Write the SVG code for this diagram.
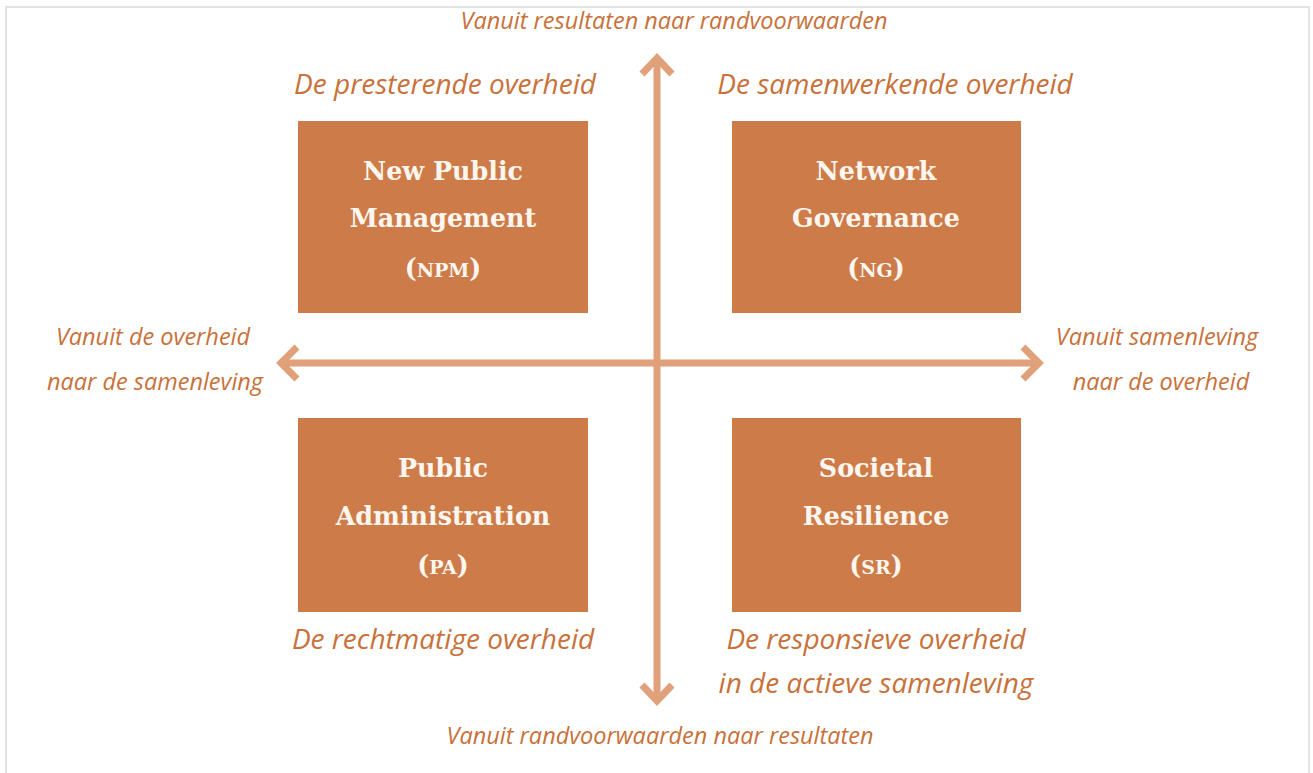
<svg xmlns="http://www.w3.org/2000/svg" width="1313" height="773" viewBox="0 0 1313 773">
  <style>
    .frame { fill: none; stroke: #e4e4e4; stroke-width: 2; }
    .box { fill: #cd7c49; }
    .boxtxt { font-family: "DejaVu Serif", "Liberation Serif", serif; font-weight: bold; font-size: 25.4px; fill: #fdf6ef; text-anchor: middle; }
    .sc { font-size: 19px; }
    .lbl { font-family: "Open Sans", "Liberation Sans", sans-serif; font-style: italic; fill: #c8713a; text-anchor: middle; }
    .big { font-size: 28px; }
    .mid { font-size: 23.5px; }
    .small { font-size: 23.5px; }
    .axis { fill: none; stroke: #e0a079; stroke-width: 7; stroke-linecap: butt; stroke-linejoin: miter; }
  </style>

  <rect width="1313" height="773" fill="#ffffff"/>
  <path class="frame" d="M6,773 V7 H1309 V773"/>

  <!-- axes -->
  <g id="connectors">
    <path class="axis" d="M657,60 V699"/>
    <path class="axis" d="M642,74 L657,58 L672,74"/>
    <path class="axis" d="M642,685 L657,701 L672,685"/>
    <path class="axis" d="M285,363 H1035"/>
    <path class="axis" d="M297,347 L281,363 L297,379"/>
    <path class="axis" d="M1023,347 L1039,363 L1023,379"/>
  </g>

  <!-- axis end labels -->
  <g id="label-top"><text class="lbl small" x="674" y="29">Vanuit resultaten naar randvoorwaarden</text></g>
  <g id="label-bottom"><text class="lbl small" x="660" y="744">Vanuit randvoorwaarden naar resultaten</text></g>
  <g id="label-left">
    <text class="lbl mid" x="153" y="345">Vanuit de overheid</text>
    <text class="lbl mid" x="155" y="390">naar de samenleving</text>
  </g>
  <g id="label-right">
    <text class="lbl mid" x="1157" y="345">Vanuit samenleving</text>
    <text class="lbl mid" x="1161" y="390">naar de overheid</text>
  </g>

  <!-- quadrant captions -->
  <g id="caption-npm"><text class="lbl big" x="445" y="94">De presterende overheid</text></g>
  <g id="caption-ng"><text class="lbl big" x="895" y="94">De samenwerkende overheid</text></g>
  <g id="caption-pa"><text class="lbl big" x="443" y="649">De rechtmatige overheid</text></g>
  <g id="caption-sr">
    <text class="lbl big" x="876" y="649">De responsieve overheid</text>
    <text class="lbl big" x="876" y="693">in de actieve samenleving</text>
  </g>

  <!-- quadrant boxes -->
  <g id="node-npm">
    <rect class="box" x="298" y="121" width="290" height="192"/>
    <text class="boxtxt" x="443" y="180">New Public</text>
    <text class="boxtxt" x="443" y="227">Management</text>
    <text class="boxtxt" x="443" y="277">(<tspan class="sc">NPM</tspan>)</text>
  </g>
  <g id="node-ng">
    <rect class="box" x="732" y="121" width="289" height="192"/>
    <text class="boxtxt" x="876" y="180">Network</text>
    <text class="boxtxt" x="876" y="227">Governance</text>
    <text class="boxtxt" x="876" y="277">(<tspan class="sc">NG</tspan>)</text>
  </g>
  <g id="node-pa">
    <rect class="box" x="298" y="418" width="290" height="194"/>
    <text class="boxtxt" x="443" y="477">Public</text>
    <text class="boxtxt" x="443" y="525">Administration</text>
    <text class="boxtxt" x="443" y="574">(<tspan class="sc">PA</tspan>)</text>
  </g>
  <g id="node-sr">
    <rect class="box" x="732" y="418" width="289" height="194"/>
    <text class="boxtxt" x="876" y="477">Societal</text>
    <text class="boxtxt" x="876" y="525">Resilience</text>
    <text class="boxtxt" x="876" y="574">(<tspan class="sc">SR</tspan>)</text>
  </g>
</svg>
